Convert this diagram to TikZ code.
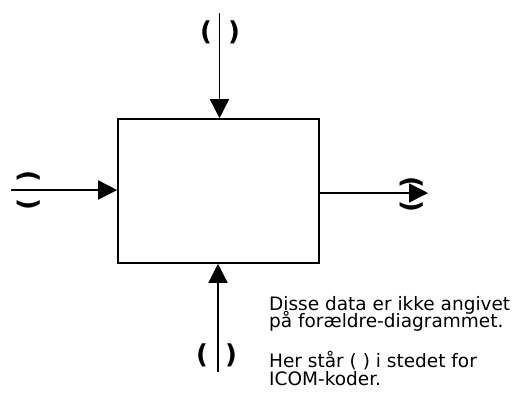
\documentclass[tikz,border=0pt]{standalone}
\usepackage{fontspec}
\setmainfont{DejaVu Sans}
\usetikzlibrary{arrows.meta}
\begin{document}
\begin{tikzpicture}[x=1pt,y=-1pt,
  boxstyle/.style={draw, line width=1.6pt, rectangle, minimum width=201pt, minimum height=144pt, inner sep=0pt},
  arr/.style={line width=1.5pt, -{Triangle[length=19pt,width=19pt]}},
  par/.style={font=\fontsize{26}{28}\selectfont\bfseries, inner sep=0pt},
  note/.style={font=\fontsize{18.5}{20}\selectfont, inner sep=0pt, anchor=base west}]
\useasboundingbox (0,0) rectangle (514,392);
\fill[white] (0,0) rectangle (514,392);
\node[boxstyle] (box) at (218.5,191) {};
\coordinate (tin) at (219.5,13);
\coordinate (lin) at (11,190);
\coordinate (rout) at (428,193);
\coordinate (bin) at (218,372);
\draw[arr] (tin) -- (tin |- box.north);
\draw[arr] (lin) -- (lin -| box.west);
\draw[arr] (box.east |- rout) -- (rout);
\draw[arr] (bin) -- (bin |- box.south);
% parentheses
\node[par] (tp1) at (206,32) {(};
\node[par] (tp2) at (234,32) {)};
\node[par] (bp1) at (202,355) {(};
\node[par] (bp2) at (231,355) {)};
\node[par, rotate=-90] (lp1) at (29,176) {(};
\node[par, rotate=-90] (lp2) at (29,204) {)};
\node[par, rotate=-90] (rp1) at (412,182) {(};
\node[par, rotate=-90] (rp2) at (412,206) {)};
% note
\node[note] (t1) at (269,310) {Disse data er ikke angivet};
\node[note] (t2) at (269,327.5) {på forældre-diagrammet.};
\node[note] (t3) at (269,367) {Her står ( ) i stedet for};
\node[note] (t4) at (269,385.5) {ICOM-koder.};
\end{tikzpicture}
\end{document}
